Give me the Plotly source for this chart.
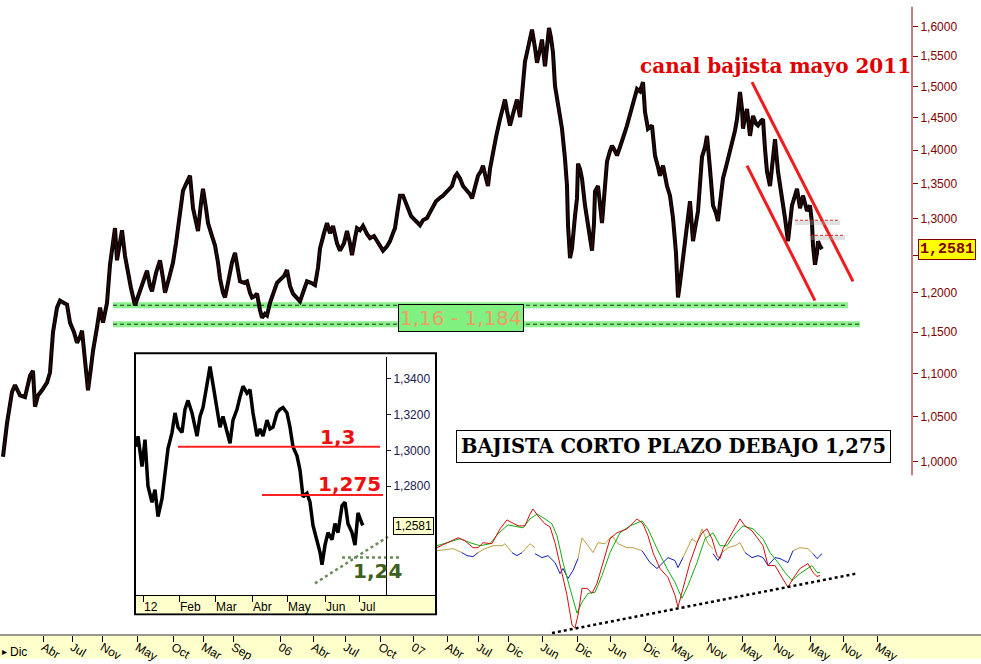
import math
import plotly.graph_objects as go

# ---------------- DATA ----------------
# Main chart (weekly EUR/USD-like series, time index t)
main_t = [3, 7, 12, 15, 20, 25, 30, 33, 35, 38, 42, 47, 50, 53, 57, 60, 64, 67, 70, 74, 77, 80, 82, 85, 88, 91, 93, 97,
          100, 103, 107, 110, 113, 115, 117, 120, 122, 125, 128, 131, 135, 138, 140, 144, 147, 150, 152, 156, 160, 163,
          165, 169, 173, 176, 178, 181, 183, 187, 190, 193, 196, 198, 201, 203, 206, 208, 212, 215, 218, 220, 223, 225,
          228, 232, 235, 238, 240, 244, 247, 250, 252, 255, 257, 260, 262, 265, 267, 270, 273, 277, 280, 284, 287, 290,
          293, 297, 300, 304, 307, 311, 315, 318, 320, 324, 327, 330, 333, 337, 340, 344, 347, 350, 352, 355, 357, 360,
          363, 367, 370, 374, 377, 380, 383, 387, 390, 393, 395, 398, 400, 403, 406, 408, 411, 413, 417, 420, 423, 427,
          430, 433, 436, 440, 443, 447, 450, 452, 455, 457, 460, 463, 467, 470, 472, 475, 478, 481, 483, 486, 488, 490,
          493, 496, 500, 503, 505, 507, 510, 513, 517, 520, 523, 525, 527, 530, 532, 535, 537, 540, 542, 545, 547, 549,
          551, 553, 555, 558, 560, 562, 565, 567, 568, 570, 572, 573, 575, 577, 578, 580, 582, 585, 588, 590, 592, 594,
          595, 598, 600, 602, 604, 607, 610, 612, 615, 617, 620, 622, 625, 627, 630, 632, 635, 637, 640, 643, 645, 648,
          652, 655, 658, 660, 663, 667, 670, 673, 676, 678, 680, 682, 685, 687, 690, 693, 696, 698, 700, 702, 705, 707,
          710, 713, 716, 718, 720, 723, 726, 728, 731, 733, 735, 737, 739, 740, 742, 743, 745, 747, 750, 753, 756, 758,
          761, 763, 765, 767, 770, 773, 775, 778, 780, 782, 785, 788, 790, 792, 795, 797, 800, 803, 805, 807, 810, 812,
          813, 815, 817, 818, 820, 822]
main_price = [1.005, 1.042, 1.078, 1.086, 1.074, 1.072, 1.097, 1.103, 1.061, 1.074, 1.080, 1.089, 1.101, 1.150, 1.181,
              1.190, 1.187, 1.185, 1.162, 1.150, 1.137, 1.144, 1.152, 1.119, 1.080, 1.107, 1.127, 1.156,
              1.181, 1.162, 1.187, 1.237, 1.273, 1.287, 1.243, 1.273, 1.284, 1.249, 1.226, 1.206, 1.184, 1.196, 1.202,
              1.219, 1.229, 1.209, 1.202, 1.226, 1.243, 1.219,
              1.200, 1.219, 1.240, 1.266, 1.290, 1.322, 1.340, 1.353, 1.362, 1.315, 1.294, 1.283, 1.322, 1.343, 1.315,
              1.294, 1.276, 1.263, 1.240, 1.219, 1.200, 1.194,
              1.213, 1.240, 1.253, 1.233, 1.215, 1.213, 1.215, 1.200, 1.194, 1.196, 1.199, 1.178, 1.168, 1.173, 1.171,
              1.187, 1.197, 1.213, 1.217, 1.222, 1.230, 1.209,
              1.199, 1.194, 1.189, 1.204, 1.215, 1.213, 1.210, 1.233, 1.259, 1.280, 1.294, 1.280, 1.290, 1.266, 1.256,
              1.266, 1.283, 1.266, 1.250, 1.273, 1.287, 1.284,
              1.290, 1.279, 1.273, 1.276, 1.270, 1.262, 1.256, 1.262, 1.269, 1.280, 1.287, 1.315, 1.333, 1.333, 1.322,
              1.315, 1.304, 1.301, 1.294, 1.291, 1.298, 1.301,
              1.309, 1.318, 1.325, 1.330, 1.333, 1.339, 1.343, 1.347, 1.361, 1.365, 1.358, 1.347, 1.340, 1.335, 1.329,
              1.346, 1.362, 1.369, 1.377, 1.358, 1.347, 1.372,
              1.397, 1.420, 1.448, 1.468, 1.479, 1.461, 1.438, 1.456, 1.479, 1.451, 1.512, 1.541, 1.556, 1.581, 1.595,
              1.564, 1.539, 1.561, 1.578, 1.533, 1.569, 1.598,
              1.581, 1.556, 1.501, 1.468, 1.451, 1.433, 1.387, 1.347, 1.291, 1.246, 1.259, 1.277, 1.304, 1.329, 1.380,
              1.372, 1.358, 1.319, 1.291, 1.270, 1.256, 1.294,
              1.339, 1.347, 1.322, 1.294, 1.329, 1.383, 1.399, 1.407, 1.399, 1.392, 1.405, 1.413, 1.428, 1.438, 1.456,
              1.467, 1.487, 1.496, 1.492, 1.507, 1.459, 1.433,
              1.438, 1.392, 1.375, 1.362, 1.377, 1.347, 1.333, 1.301, 1.253, 1.194, 1.213, 1.237, 1.266, 1.291, 1.325,
              1.269, 1.290, 1.311, 1.350, 1.390, 1.405, 1.422,
              1.372, 1.319, 1.308, 1.297, 1.322, 1.358, 1.375, 1.387, 1.402, 1.417, 1.430, 1.448, 1.479, 1.491, 1.464,
              1.433, 1.451, 1.464, 1.422, 1.453, 1.441, 1.438,
              1.445, 1.448, 1.402, 1.368, 1.347, 1.387, 1.417, 1.368, 1.350, 1.333, 1.301, 1.269, 1.294, 1.319, 1.333,
              1.343, 1.315, 1.333, 1.322, 1.311, 1.319, 1.294,
              1.263, 1.237, 1.253, 1.269, 1.262, 1.2581]

main_tick_pos = [3, 43, 72, 102, 137, 173, 203, 233, 280, 313, 345, 380, 413, 447, 478, 508, 542, 577, 610, 645,
                 673, 708, 742, 775, 810, 843, 877]
main_tick_labels = ["Dic", "Abr", "Jul", "Nov", "May", "Oct", "Mar", "Sep", "06", "Abr", "Jul", "Oct", "07", "Abr",
                    "Jul", "Dic", "Jun", "Dic", "Jun", "Dic", "May", "Nov", "May", "Nov", "May", "Nov", "May"]
price_ticks = [1.00, 1.05, 1.10, 1.15, 1.20, 1.25, 1.30, 1.35, 1.40, 1.45, 1.50, 1.55, 1.60]
# the 1,2500 label is hidden behind the last-price box in the original
price_tick_labels = ["1,0000", "1,0500", "1,1000", "1,1500", "1,2000", "", "1,3000", "1,3500", "1,4000",
                     "1,4500", "1,5000", "1,5500", "1,6000"]
last_price = 1.2581

support_levels = [1.184, 1.16]
support_t = [[113, 848], [113, 860]]
channel_upper_t = [752, 853]
channel_upper_p = [1.507, 1.215]
channel_lower_t = [747, 815]
channel_lower_p = [1.377, 1.190]
short_levels = [1.298, 1.277]
short_levels_t = [[795, 840], [810, 845]]

# Inset (daily, last months)
inset_t = [137, 138, 142, 145, 148, 152, 155, 158, 162, 165, 168, 172, 175, 178, 182, 185, 188, 192, 197, 200, 203,
           207, 210, 213, 217, 220, 223, 227, 230, 233, 237, 240, 243, 247, 250, 253, 257, 260, 263, 267, 270, 273,
           277, 280, 283, 287, 290, 293, 297, 300, 303, 307, 310, 313, 317, 320, 322, 325, 328, 332, 335, 338, 342,
           345, 348, 352, 355, 358, 362, 363]
inset_price = [1.302, 1.308, 1.291, 1.306, 1.280, 1.271, 1.278, 1.263, 1.273, 1.287, 1.301, 1.310, 1.321, 1.313,
               1.310, 1.323, 1.328, 1.321, 1.308, 1.319, 1.324, 1.337, 1.347, 1.337, 1.323, 1.313, 1.319, 1.310,
               1.304, 1.317, 1.323, 1.330, 1.336, 1.332, 1.334, 1.321, 1.308, 1.312, 1.308, 1.317, 1.312, 1.313,
               1.321, 1.323, 1.324, 1.321, 1.313, 1.302, 1.297, 1.289, 1.274, 1.276, 1.271, 1.258, 1.250, 1.243,
               1.236, 1.247, 1.254, 1.250, 1.259, 1.254, 1.269, 1.271, 1.259, 1.254, 1.247, 1.265, 1.259, 1.2581]
inset_tick_pos = [143, 179, 215, 252, 287, 325, 359]
inset_tick_labels = ["12", "Feb", "Mar", "Abr", "May", "Jun", "Jul"]
inset_price_ticks = [1.28, 1.30, 1.32, 1.34]
inset_price_labels = ["1,2800", "1,3000", "1,3200", "1,3400"]
inset_res_t = [[178, 380], [262, 383]]
inset_res_p = [1.302, 1.275]
inset_trend_t = [315, 388]
inset_trend_p = [1.2256, 1.2517]
inset_sup_t = [342, 402]
inset_sup_p = 1.24

# Oscillator panel
osc_red_t = [437, 447, 458, 465, 473, 478, 483, 492, 500, 507, 512, 518, 525, 530, 533, 538, 545, 550, 555, 562, 567,
             572, 575, 578, 582, 587, 592, 597, 603, 610, 617, 627, 637, 643, 648, 653, 660, 668, 675, 678, 683, 690,
             697, 702, 707, 712, 717, 720, 723, 730, 737, 740, 745, 752, 758, 763, 768, 775, 782, 788, 793, 800, 808,
             813, 817, 820]
osc_red_v = [88, 93, 98, 95, 88, 88, 93, 92, 107, 116, 113, 110, 110, 122, 127, 120, 112, 109, 93, 63, 40, 10, 7, 20,
             47, 47, 42, 52, 73, 97, 103, 107, 117, 112, 100, 83, 67, 58, 40, 28, 47, 73, 93, 103, 107, 97, 80, 77,
             87, 100, 113, 117, 110, 105, 97, 90, 70, 70, 58, 48, 57, 67, 72, 63, 59, 60]
osc_green_t = [437, 447, 460, 470, 480, 490, 498, 508, 517, 523, 530, 537, 545, 552, 557, 563, 570, 577, 582, 588,
               595, 602, 610, 620, 630, 642, 648, 657, 667, 675, 682, 688, 697, 705, 713, 720, 727, 735, 743, 753,
               763, 770, 778, 785, 792, 800, 812, 817, 820]
osc_green_v = [90, 93, 97, 93, 90, 92, 102, 111, 109, 108, 117, 122, 117, 112, 100, 73, 47, 22, 33, 42, 43, 60, 83,
               103, 110, 115, 107, 87, 67, 53, 37, 50, 73, 97, 103, 90, 90, 102, 110, 107, 97, 83, 73, 63, 55, 62,
               70, 63, 63]
osc_olive_t = [437, 453, 462, None, 478, 485, 493, 502, 505, 512, None, 522, 530, 535, None, 578, 582, 588, 593, 598,
               605, 612, 618, 627, 633, 642, None, 683, 692, 697, 702, 708, 713, None, 722, 728, 735, 740, 745, None,
               793, 800, 808, 813]
osc_olive_v = [85, 87, 83, None, 83, 87, 90, 90, 92, 83, None, 83, 92, 88, None, 77, 98, 90, 83, 93, 92, 100, 92, 88,
               88, 85, None, 78, 97, 93, 107, 92, 87, None, 83, 88, 90, 93, 83, None, 85, 88, 87, 82]
osc_blue_t = [462, 467, 473, 478, None, 512, 517, 522, None, 535, 542, 548, 555, 560, 563, 568, 573, 578, None, 642,
              650, 657, 663, 668, 675, 678, 683, None, 713, 718, 722, None, 745, 752, 758, 763, 768, 775, 780, 788,
              793, None, 813, 817, 822]
osc_blue_v = [83, 80, 79, 83, None, 83, 80, 83, None, 82, 78, 80, 73, 62, 67, 57, 65, 77, None, 85, 73, 67, 73, 78,
              75, 68, 78, None, 82, 75, 83, None, 83, 78, 80, 78, 70, 78, 77, 73, 85, None, 82, 77, 82]
osc_trend_t = [552, 857]
osc_trend_v = [2, 62]

# ---------------- FIGURE ----------------
W, H = 981, 664
ML, MR, MT, MB = 0, 69, 0, 24
PW, PH = W - ML - MR, H - MT - MB


def px(x):
    return x / PW


def py(y):
    return 1 - y / PH


SANS = "Liberation Sans, Arial, sans-serif"
WIDE = "DejaVu Sans, Verdana, sans-serif"
SERIF = "DejaVu Serif, Liberation Serif, serif"
AXRED = "#800000"

fig = go.Figure()

# support zone
for lvl, tt in zip(support_levels, support_t):
    fig.add_trace(go.Scatter(x=tt, y=[lvl, lvl], mode="lines", line=dict(color="#8cf08c", width=6),
                             hoverinfo="skip"))
    fig.add_trace(go.Scatter(x=tt, y=[lvl, lvl], mode="lines",
                             line=dict(color="#1a3a1a", width=1, dash="4px,3px"), hoverinfo="skip"))

# main price
fig.add_trace(go.Scatter(x=main_t, y=main_price, mode="lines", line=dict(color="#000000", width=4),
                         hoverinfo="skip"))
fig.add_trace(go.Scatter(x=main_t, y=main_price, mode="lines", line=dict(color="#7a1010", width=1),
                         opacity=0.55, hoverinfo="skip"))

# channel
fig.add_trace(go.Scatter(x=channel_upper_t, y=channel_upper_p, mode="lines", line=dict(color="#ee1c1c", width=3),
                         hoverinfo="skip"))
fig.add_trace(go.Scatter(x=channel_lower_t, y=channel_lower_p, mode="lines", line=dict(color="#ee1c1c", width=3),
                         hoverinfo="skip"))
for lvl, tt in zip(short_levels, short_levels_t):
    fig.add_trace(go.Scatter(x=tt, y=[lvl * 0.997, lvl * 0.997], mode="lines",
                             line=dict(color="rgba(170,170,170,0.35)", width=4), hoverinfo="skip"))
    fig.add_trace(go.Scatter(x=tt, y=[lvl, lvl], mode="lines", line=dict(color="#e02020", width=1, dash="3px,2px"),
                             hoverinfo="skip"))

# inset
fig.add_trace(go.Scatter(x=inset_t, y=inset_price, mode="lines", line=dict(color="#000000", width=3.5),
                         xaxis="x2", yaxis="y2", hoverinfo="skip"))
for tt, lvl in zip(inset_res_t, inset_res_p):
    fig.add_trace(go.Scatter(x=tt, y=[lvl, lvl], mode="lines", line=dict(color="#ff2020", width=2),
                             xaxis="x2", yaxis="y2", hoverinfo="skip"))
fig.add_trace(go.Scatter(x=inset_trend_t, y=inset_trend_p, mode="lines",
                         line=dict(color="#6b8b5b", width=2.5, dash="dot"), xaxis="x2", yaxis="y2",
                         hoverinfo="skip"))
fig.add_trace(go.Scatter(x=inset_sup_t, y=[inset_sup_p, inset_sup_p], mode="lines",
                         line=dict(color="#6b8b5b", width=2.5, dash="dot"), xaxis="x2", yaxis="y2",
                         hoverinfo="skip"))

# oscillator
fig.add_trace(go.Scatter(x=osc_olive_t, y=osc_olive_v, mode="lines", line=dict(color="#b8a040", width=1),
                         yaxis="y3", connectgaps=False, hoverinfo="skip"))
fig.add_trace(go.Scatter(x=osc_blue_t, y=osc_blue_v, mode="lines", line=dict(color="#1020b0", width=1),
                         yaxis="y3", connectgaps=False, hoverinfo="skip"))
fig.add_trace(go.Scatter(x=osc_green_t, y=osc_green_v, mode="lines", line=dict(color="#10b010", width=1),
                         yaxis="y3", hoverinfo="skip"))
fig.add_trace(go.Scatter(x=osc_red_t, y=osc_red_v, mode="lines", line=dict(color="#d01010", width=1),
                         yaxis="y3", hoverinfo="skip"))
fig.add_trace(go.Scatter(x=osc_trend_t, y=osc_trend_v, mode="lines",
                         line=dict(color="#000000", width=2.5, dash="dot"), yaxis="y3", hoverinfo="skip"))

shapes = [
    # bottom date band
    dict(type="rect", xref="paper", yref="paper", x0=0, x1=W / PW, y0=-MB / PH, y1=0,
         fillcolor="#ffffcc", line=dict(width=0), layer="below"),
    dict(type="line", xref="paper", yref="paper", x0=0, x1=W / PW, y0=0, y1=0,
         line=dict(color="#333333", width=1)),
    # main right axis line
    dict(type="line", xref="paper", yref="y", x0=1, x1=1, y0=0.985, y1=1.635,
         line=dict(color=AXRED, width=1)),
    # inset frame
    dict(type="rect", xref="paper", yref="paper", x0=px(135), x1=px(436), y0=py(619), y1=py(356),
         fillcolor="#ffffff", line=dict(color="#000000", width=2), layer="below"),
    dict(type="rect", xref="paper", yref="paper", x0=px(136), x1=px(435), y0=py(618), y1=py(600),
         fillcolor="#ffffcc", line=dict(width=0), layer="below"),
]


def note(text, x, y, font, **kw):
    d = dict(text=text, xref="paper", yref="paper", x=px(x), y=py(y), xanchor="center", yanchor="middle",
             showarrow=False, font=font)
    d.update(kw)
    return d


annotations = [
    note("canal bajista mayo 2011", 775, 67, dict(family=SERIF, size=20, color="#e00000", weight="bold")),
    note("1,16 - 1,184", 461, 321, dict(family=WIDE, size=20, color="#eea060"),
         bgcolor="#80f080", bordercolor="#000000", borderwidth=1, borderpad=1),
    note("BAJISTA CORTO PLAZO DEBAJO 1,275", 673, 450, dict(family=SERIF, size=19.5, color="#000000", weight="bold"),
         bgcolor="#ffffff", bordercolor="#000000", borderwidth=1, borderpad=4),
    note("1,3", 337, 440, dict(family=WIDE, size=20, color="#ee1010", weight="bold")),
    note("1,275", 349, 488, dict(family=WIDE, size=20, color="#ee1010", weight="bold")),
    note("1,24", 377, 575, dict(family=WIDE, size=20, color="#3d6020", weight="bold")),
    note("1,2581", 413, 530, dict(family=SANS, size=12, color="#000000"),
         bgcolor="#ffffcc", bordercolor="#000000", borderwidth=1, borderpad=1),
    dict(text="1,2581", xref="paper", yref="y", x=px(918), y=math.log10(last_price), xanchor="left",
         yanchor="middle", showarrow=False,
         font=dict(family="Liberation Mono, Courier New, monospace", size=15, color=AXRED, weight="bold"),
         bgcolor="#ffff00", bordercolor=AXRED, borderwidth=1, borderpad=1),
    note("Dic", 18, 657, dict(family=SANS, size=12, color="#000000")),
    dict(text="▸", xref="paper", yref="paper", x=0, y=py(657), xanchor="left", yanchor="middle",
         showarrow=False, font=dict(family=SANS, size=10, color="#000000")),
]

fig.update_layout(
    width=W, height=H, margin=dict(l=ML, r=MR, t=MT, b=MB),
    paper_bgcolor="#ffffff", plot_bgcolor="rgba(0,0,0,0)", showlegend=False,
    shapes=shapes, annotations=annotations,
    xaxis=dict(range=[0, PW], tickvals=main_tick_pos[1:], ticktext=main_tick_labels[1:], ticks="outside",
               ticklen=6, tickcolor="#000000", ticklabelposition="outside right", showgrid=False, zeroline=False,
               showline=False, tickfont=dict(family=SANS, size=12, color="#000000"), fixedrange=True),
    yaxis=dict(type="log", range=[-0.0815, 0.2167], side="right", tickvals=price_ticks, ticktext=price_tick_labels,
               ticks="outside", ticklen=5, tickcolor=AXRED, showgrid=False, zeroline=False, showline=False,
               tickfont=dict(family=SANS, size=12, color=AXRED), fixedrange=True),
    xaxis2=dict(domain=[px(136), px(435)], range=[136, 435], anchor="y2", tickvals=inset_tick_pos,
                ticktext=inset_tick_labels, ticks="outside", ticklen=6, tickcolor="#000000",
                ticklabelposition="outside right", showgrid=False, zeroline=False, showline=True,
                linecolor="#000000", linewidth=1, tickfont=dict(family=SANS, size=12, color="#000000"),
                fixedrange=True),
    yaxis2=dict(domain=[py(600), py(360)], range=[1.2189, 1.3522], anchor="free", position=px(386), side="right",
                tickvals=inset_price_ticks, ticktext=inset_price_labels, ticks="outside", ticklen=4,
                tickcolor="#202040", showgrid=False, zeroline=False, showline=True, linecolor="#000000",
                linewidth=1, tickfont=dict(family=SANS, size=12, color="#202050"), fixedrange=True),
    yaxis3=dict(domain=[0, 140 / PH], range=[0, 140], anchor="x", visible=False, fixedrange=True),
)

fig.write_html("out.html", config={"displayModeBar": False},
               post_script="document.body.style.margin='0';")
